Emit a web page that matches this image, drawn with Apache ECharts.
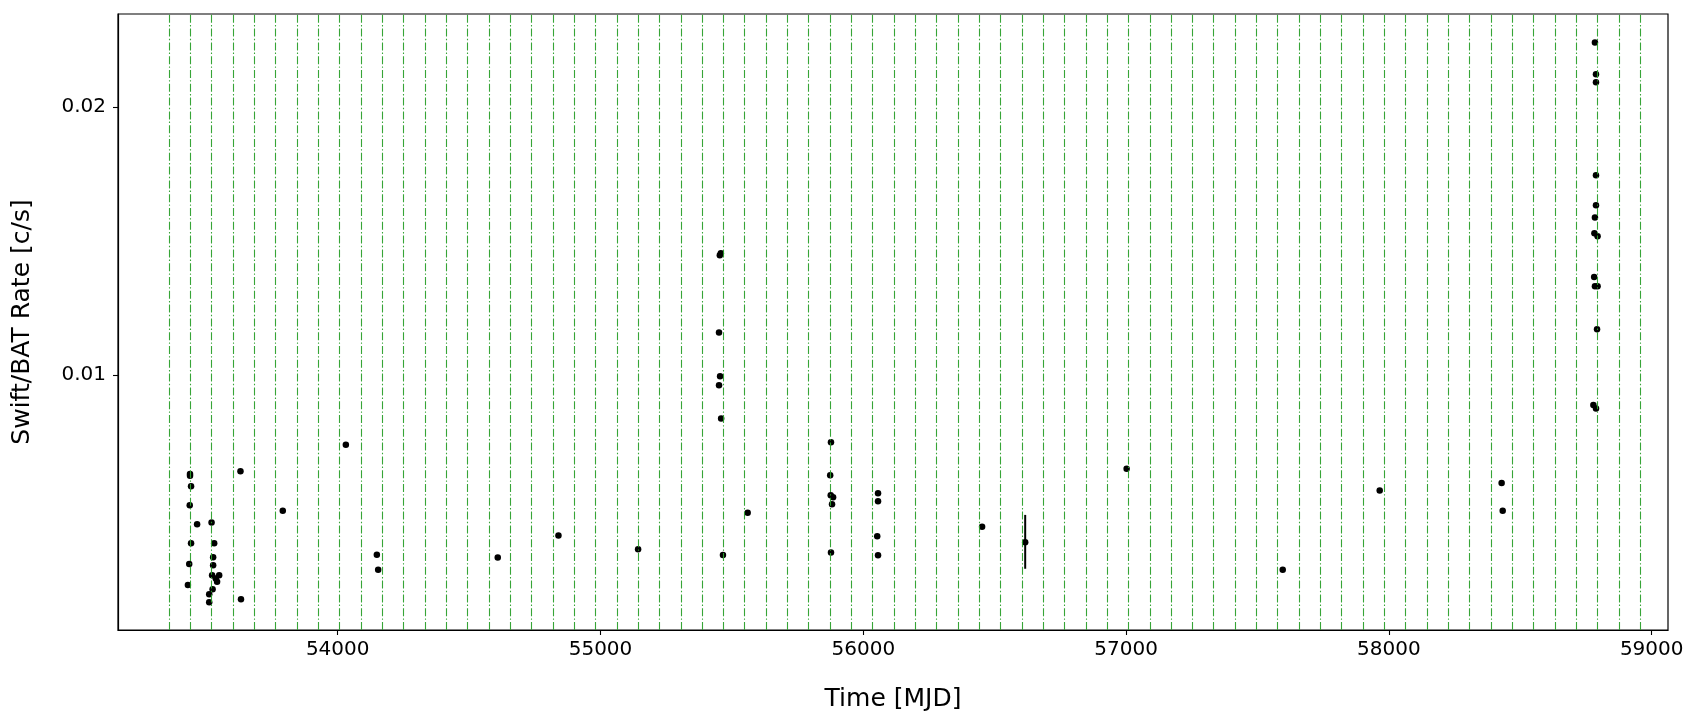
<!DOCTYPE html>
<html>
<head>
<meta charset="utf-8">
<script src="https://cdn.jsdelivr.net/npm/echarts@6/dist/echarts.min.js"></script>
<style>html,body{margin:0;padding:0;background:#fff;}#c{width:1694px;height:721px;}</style>
</head>
<body>
<div id="c"></div>
<script>
// Observation times (MJD) and Swift/BAT rates (c/s)
const mjd = [
  53438, 53438, 53442, 53437, 53442, 53435, 53430, 53465, 53520, 53530,
  53526, 53526, 53522, 53549, 53536, 53541, 53524, 53511, 53511, 53630,
  53632, 53791, 54031, 54149, 54154, 54609, 54840, 55143, 55451, 55455,
  55451, 55459, 55458, 55454, 55466, 55560, 55877, 55874, 55876, 55885,
  55881, 55877, 56056, 56056, 56053, 56056, 56452, 56616, 57002, 57596,
  57965, 58429, 58433, 58778, 58788, 58784, 58788, 58788, 58788, 58788,
  58784, 58782, 58794, 58781, 58784, 58794, 58792
];
const rate = [
  0.00631, 0.00624, 0.00585, 0.00514, 0.00372, 0.00295, 0.00216, 0.00443, 0.00450, 0.00372,
  0.00320, 0.00290, 0.00253, 0.00253, 0.00241, 0.00229, 0.00201, 0.00182, 0.00152, 0.00641,
  0.00163, 0.00493, 0.00740, 0.00329, 0.00273, 0.00319, 0.00401, 0.00350, 0.01159, 0.00995,
  0.00962, 0.00838, 0.01454, 0.01447, 0.00328, 0.00486, 0.00749, 0.00626, 0.00551, 0.00544,
  0.00518, 0.00338, 0.00559, 0.00529, 0.00398, 0.00327, 0.00434, 0.00376, 0.00650, 0.00273,
  0.00569, 0.00597, 0.00493, 0.00888, 0.00875, 0.02241, 0.02122, 0.02092, 0.01745, 0.01633,
  0.01588, 0.01529, 0.01518, 0.01366, 0.01331, 0.01331, 0.01171
];
// Points with visible error bars: [mjd, low, high]
const errMjd = [56616];
const errLow = [0.00277];
const errHigh = [0.00478];
// Vertical reference epochs (MJD)
const epochs = [
  53358.5, 53439.6, 53520.7, 53601.9, 53683.0, 53764.1, 53845.2, 53926.3, 54007.5, 54088.6,
  54169.7, 54250.8, 54331.9, 54413.1, 54494.2, 54575.3, 54656.4, 54737.5, 54818.7, 54899.8,
  54980.9, 55062.0, 55143.1, 55224.3, 55305.4, 55386.5, 55467.6, 55548.7, 55629.9, 55711.0,
  55792.1, 55873.2, 55954.3, 56035.5, 56116.6, 56197.7, 56278.8, 56359.9, 56441.1, 56522.2,
  56603.3, 56684.4, 56765.5, 56846.7, 56927.8, 57008.9, 57090.0, 57171.1, 57252.3, 57333.4,
  57414.5, 57495.6, 57576.7, 57657.9, 57739.0, 57820.1, 57901.2, 57982.3, 58063.5, 58144.6,
  58225.7, 58306.8, 58387.9, 58469.1, 58550.2, 58631.3, 58712.4, 58793.5, 58874.7, 58955.8
];
const xTicks = [54000, 55000, 56000, 57000, 58000, 59000];
const yTicks = [0.01, 0.02];
const yTickLabels = ['0.01', '0.02'];

const chart = echarts.init(document.getElementById('c'), null, {renderer: 'canvas'});
const FONT = 'DejaVu Sans';
chart.setOption({
  animation: false,
  backgroundColor: '#ffffff',
  grid: {left: 118, right: 26, top: 14, bottom: 91, containLabel: false, outerBoundsMode: 'none',
         show: true, borderColor: '#000', borderWidth: 1.2, backgroundColor: 'transparent'},
  xAxis: {
    type: 'value', min: 53164, max: 59062,
    name: 'Time [MJD]', nameLocation: 'middle', nameGap: 57,
    nameTextStyle: {fontFamily: FONT, fontSize: 25, color: '#000'},
    axisLine: {show: true, onZero: false, lineStyle: {color: '#000', width: 1.2}},
    axisTick: {show: true, inside: false, length: 5, customValues: xTicks, lineStyle: {color: '#000', width: 1.1}},
    axisLabel: {show: true, margin: 10, customValues: xTicks, fontFamily: FONT, fontSize: 20, color: '#000',
                formatter: v => String(v)},
    splitLine: {show: false}
  },
  yAxis: {
    type: 'value', min: 0.000485, max: 0.02347,
    name: 'Swift/BAT Rate [c/s]', nameLocation: 'middle', nameGap: 83,
    nameTextStyle: {fontFamily: FONT, fontSize: 25, color: '#000'},
    axisLine: {show: true, onZero: false, lineStyle: {color: '#000', width: 1.2}},
    axisTick: {show: true, inside: false, length: 5, customValues: yTicks, lineStyle: {color: '#000', width: 1.1}},
    axisLabel: {show: true, margin: 12, customValues: yTicks, fontFamily: FONT, fontSize: 20, color: '#000',
                formatter: v => yTickLabels[yTicks.findIndex(t => Math.abs(t - v) < 1e-9)] ?? String(v)},
    splitLine: {show: false}
  },
  series: [
    {
      type: 'line', data: [], silent: true, z: 1,
      markLine: {
        silent: true, symbol: 'none', animation: false,
        label: {show: false},
        lineStyle: {color: '#2ca02c', width: 1.1, type: [8, 2.2, 1.4, 2.2], opacity: 0.95},
        emphasis: {disabled: true},
        data: epochs.map(v => ({xAxis: v}))
      }
    },
    {
      type: 'custom', z: 3, silent: true,
      data: errMjd.map((m, i) => [m, errLow[i], errHigh[i]]),
      renderItem: (params, api) => {
        const x = api.value(0);
        const p1 = api.coord([x, api.value(1)]);
        const p2 = api.coord([x, api.value(2)]);
        return {type: 'line', shape: {x1: p1[0], y1: p1[1], x2: p2[0], y2: p2[1]},
                style: {stroke: '#000', lineWidth: 2}};
      }
    },
    {
      type: 'scatter', z: 4, silent: true,
      symbol: 'circle', symbolSize: 6.5,
      itemStyle: {color: '#000', opacity: 1},
      data: mjd.map((m, i) => [m, rate[i]])
    }
  ]
});
</script>
</body>
</html>
